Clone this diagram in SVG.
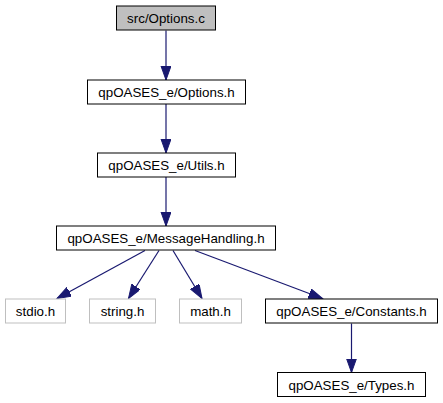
<svg xmlns="http://www.w3.org/2000/svg" width="443" height="403" viewBox="0 0 443 403">
<style>
.n rect{fill:#fff;stroke:#000;stroke-width:1}
.n.root rect{fill:#bfbfbf}
.n.sys rect{stroke:#bfbfbf}
.n text{font-family:"Liberation Sans",Arial,sans-serif;font-size:13.33px;text-anchor:middle;fill:#000}
.e line{stroke:#191970;stroke-width:1.2;fill:none;marker-end:url(#ah)}
</style>
<defs>
<marker id="ah" markerUnits="userSpaceOnUse" markerWidth="16" markerHeight="12" refX="14" refY="5" orient="auto" viewBox="0 0 16 12">
<path d="M0,0 L14,5 L0,10 Z" fill="#191970" stroke="#191970" stroke-width="1"/>
</marker>
</defs>
<rect width="443" height="403" fill="#fff"/>
<g id="edges" class="e">
<line x1="166" y1="30.5" x2="166" y2="80"/>
<line x1="166" y1="104" x2="166" y2="153"/>
<line x1="166" y1="177" x2="166" y2="226"/>
<line x1="145" y1="250.5" x2="57" y2="298.5"/>
<line x1="159" y1="250.5" x2="128.5" y2="298.5"/>
<line x1="173" y1="250.5" x2="202" y2="298.5"/>
<line x1="195" y1="250.5" x2="322.5" y2="298.5"/>
<line x1="351.5" y1="323.5" x2="351.5" y2="372.5"/>
</g>
<g id="node1" class="n root"><rect x="116.5" y="6" width="99" height="24"/><text x="166" y="23">src/Options.c</text></g>
<g id="node2" class="n"><rect x="87.5" y="80" width="158" height="24"/><text x="166.5" y="97">qpOASES_e/Options.h</text></g>
<g id="node3" class="n"><rect x="97.5" y="153" width="138" height="24"/><text x="166.5" y="170">qpOASES_e/Utils.h</text></g>
<g id="node4" class="n"><rect x="56.5" y="226" width="219" height="24"/><text x="166" y="243">qpOASES_e/MessageHandling.h</text></g>
<g id="node5" class="n sys"><rect x="5.5" y="299" width="60" height="24"/><text x="35.5" y="316">stdio.h</text></g>
<g id="node6" class="n sys"><rect x="89.5" y="299" width="66" height="24"/><text x="122.5" y="316">string.h</text></g>
<g id="node7" class="n sys"><rect x="179.5" y="299" width="62" height="24"/><text x="210.5" y="316">math.h</text></g>
<g id="node8" class="n"><rect x="265.5" y="299" width="172" height="24"/><text x="351.5" y="316">qpOASES_e/Constants.h</text></g>
<g id="node9" class="n"><rect x="277.5" y="372.5" width="148" height="24"/><text x="351.5" y="389.5">qpOASES_e/Types.h</text></g>
</svg>
